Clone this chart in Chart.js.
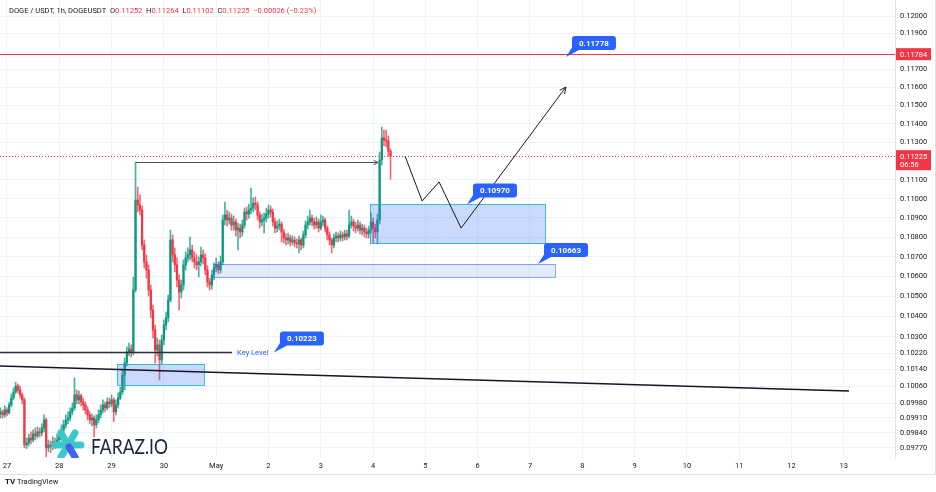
<!DOCTYPE html>
<html>
<head>
<meta charset="utf-8">
<script src="https://cdn.jsdelivr.net/npm/chart.js@4.4.1/dist/chart.umd.min.js"></script>
<style>
  html, body { margin: 0; padding: 0; background: #fff; }
  #wrap { width: 936px; height: 492px; }
</style>
</head>
<body>
<div id="wrap"><canvas id="myChart" width="936" height="492"></canvas></div>
<script>
// DOGE/USDT 1h candles, hour 0 = 27 Apr 00:00
var firstHour = -3;
var firstOpen = 0.09928;

var closes = [
  0.09938, 0.09924, 0.09947, 0.09933, 0.09971, 0.10004, 0.10033, 0.10061, 0.10042, 0.10019,
  0.09995, 0.09783, 0.09792, 0.09815, 0.09806, 0.09834, 0.09825, 0.09844, 0.09839, 0.09862,
  0.09900, 0.09769, 0.09783, 0.09774, 0.09797, 0.09788, 0.09806, 0.09825, 0.09853, 0.09877,
  0.09900, 0.09909, 0.09938, 0.09957, 0.10019, 0.09995, 0.10014, 0.09985, 0.09971, 0.09947,
  0.09924, 0.09900, 0.09909, 0.09877, 0.09900, 0.09924, 0.09947, 0.09971, 0.09957, 0.09985,
  0.09976, 0.09995, 0.09938, 0.09971, 0.10004, 0.10033, 0.10114, 0.10172, 0.10225, 0.10240,
  0.10225, 0.10532, 0.10993, 0.10967, 0.10941, 0.10760, 0.10674, 0.10633, 0.10532, 0.10432,
  0.10333, 0.10235, 0.10260, 0.10187, 0.10284, 0.10358, 0.10393, 0.10482, 0.10786, 0.10710,
  0.10659, 0.10582, 0.10522, 0.10557, 0.10659, 0.10694, 0.10710, 0.10735, 0.10694, 0.10674,
  0.10659, 0.10674, 0.10710, 0.10694, 0.10633, 0.10572, 0.10557, 0.10608, 0.10643, 0.10659,
  0.10633, 0.10674, 0.10889, 0.10915, 0.10889, 0.10899, 0.10863, 0.10879, 0.10837, 0.10847,
  0.10827, 0.10863, 0.10931, 0.10920, 0.10941, 0.10951, 0.10977, 0.10967, 0.10915, 0.10879,
  0.10889, 0.10899, 0.10920, 0.10941, 0.10931, 0.10879, 0.10847, 0.10858, 0.10868, 0.10827,
  0.10796, 0.10786, 0.10796, 0.10776, 0.10786, 0.10771, 0.10766, 0.10786, 0.10760, 0.10812,
  0.10863, 0.10879, 0.10899, 0.10879, 0.10863, 0.10879, 0.10847, 0.10879, 0.10889, 0.10847,
  0.10812, 0.10786, 0.10760, 0.10796, 0.10806, 0.10796, 0.10812, 0.10801, 0.10817, 0.10806,
  0.10863, 0.10879, 0.10858, 0.10847, 0.10863, 0.10837, 0.10847, 0.10827, 0.10817, 0.10837,
  0.10879, 0.10847, 0.10827, 0.10889, 0.11205, 0.11323, 0.11312, 0.11307, 0.11252, 0.11225
];
var highs = [
  0.09957, 0.09947, 0.09966, 0.09957, 0.09985, 0.10023, 0.10052, 0.10080, 0.10071, 0.10061,
  0.10028, 0.10004, 0.09815, 0.09834, 0.09844, 0.09853, 0.09862, 0.09867, 0.09862, 0.09881,
  0.09924, 0.09909, 0.09806, 0.09801, 0.09820, 0.09815, 0.09834, 0.09853, 0.09877, 0.09900,
  0.09924, 0.09938, 0.09957, 0.09981, 0.10100, 0.10042, 0.10037, 0.10023, 0.10004, 0.09985,
  0.09962, 0.09938, 0.09928, 0.09919, 0.09924, 0.09947, 0.09971, 0.09995, 0.09985, 0.10004,
  0.10004, 0.10019, 0.10004, 0.09995, 0.10028, 0.10056, 0.10138, 0.10197, 0.10250, 0.10269,
  0.10260, 0.10597, 0.11194, 0.11062, 0.11020, 0.10962, 0.10786, 0.10710, 0.10659, 0.10557,
  0.10457, 0.10358, 0.10294, 0.10284, 0.10309, 0.10383, 0.10422, 0.10507, 0.10837, 0.10812,
  0.10745, 0.10694, 0.10608, 0.10582, 0.10684, 0.10725, 0.10745, 0.10801, 0.10760, 0.10725,
  0.10710, 0.10699, 0.10750, 0.10735, 0.10715, 0.10654, 0.10592, 0.10633, 0.10669, 0.10694,
  0.10674, 0.10704, 0.10915, 0.10983, 0.10941, 0.10931, 0.10920, 0.10910, 0.10894, 0.10873,
  0.10868, 0.10889, 0.10951, 0.10957, 0.10972, 0.11056, 0.11004, 0.11009, 0.10983, 0.10931,
  0.10920, 0.10925, 0.10951, 0.10967, 0.10962, 0.10946, 0.10899, 0.10884, 0.10894, 0.10879,
  0.10842, 0.10817, 0.10822, 0.10812, 0.10806, 0.10801, 0.10791, 0.10806, 0.10796, 0.10832,
  0.10884, 0.10910, 0.10941, 0.10915, 0.10899, 0.10904, 0.10894, 0.10915, 0.10910, 0.10899,
  0.10858, 0.10827, 0.10796, 0.10817, 0.10827, 0.10822, 0.10832, 0.10827, 0.10837, 0.10837,
  0.10941, 0.10910, 0.10894, 0.10879, 0.10889, 0.10879, 0.10868, 0.10863, 0.10847, 0.10858,
  0.10925, 0.10899, 0.10868, 0.10920, 0.11247, 0.11382, 0.11366, 0.11366, 0.11334, 0.11264
];
var lows = [
  0.09909, 0.09909, 0.09914, 0.09919, 0.09928, 0.09962, 0.09995, 0.10023, 0.10028, 0.10004,
  0.09976, 0.09769, 0.09765, 0.09778, 0.09788, 0.09797, 0.09806, 0.09815, 0.09820, 0.09825,
  0.09844, 0.09727, 0.09751, 0.09746, 0.09760, 0.09765, 0.09769, 0.09792, 0.09806, 0.09839,
  0.09862, 0.09881, 0.09895, 0.09924, 0.09947, 0.09976, 0.09976, 0.09966, 0.09947, 0.09928,
  0.09900, 0.09881, 0.09872, 0.09820, 0.09862, 0.09886, 0.09909, 0.09933, 0.09938, 0.09947,
  0.09957, 0.09962, 0.09891, 0.09924, 0.09957, 0.09995, 0.10019, 0.10042, 0.10158, 0.10206,
  0.10201, 0.10211, 0.10522, 0.10931, 0.10915, 0.10735, 0.10643, 0.10592, 0.10502, 0.10393,
  0.10294, 0.10172, 0.10206, 0.10090, 0.10168, 0.10260, 0.10333, 0.10373, 0.10472, 0.10674,
  0.10623, 0.10547, 0.10432, 0.10492, 0.10532, 0.10633, 0.10674, 0.10684, 0.10674, 0.10643,
  0.10633, 0.10597, 0.10654, 0.10664, 0.10608, 0.10547, 0.10532, 0.10537, 0.10582, 0.10623,
  0.10613, 0.10618, 0.10659, 0.10863, 0.10858, 0.10868, 0.10837, 0.10837, 0.10806, 0.10735,
  0.10796, 0.10806, 0.10847, 0.10889, 0.10899, 0.10920, 0.10931, 0.10941, 0.10889, 0.10847,
  0.10858, 0.10822, 0.10879, 0.10899, 0.10904, 0.10858, 0.10822, 0.10827, 0.10837, 0.10776,
  0.10771, 0.10760, 0.10766, 0.10755, 0.10760, 0.10750, 0.10745, 0.10720, 0.10735, 0.10745,
  0.10796, 0.10842, 0.10863, 0.10858, 0.10842, 0.10847, 0.10827, 0.10837, 0.10858, 0.10827,
  0.10786, 0.10760, 0.10720, 0.10745, 0.10776, 0.10776, 0.10781, 0.10781, 0.10786, 0.10786,
  0.10796, 0.10847, 0.10832, 0.10822, 0.10832, 0.10817, 0.10812, 0.10801, 0.10796, 0.10796,
  0.10822, 0.10771, 0.10796, 0.10766, 0.10868, 0.11178, 0.11280, 0.11275, 0.11225, 0.11102
];

var dayLabels = ["27", "28", "29", "30", "May", "2", "3", "4", "5", "6", "7", "8", "9", "10", "11", "12", "13"];
var priceTicks = [0.12, 0.119, 0.117, 0.116, 0.115, 0.114, 0.113, 0.111, 0.110, 0.109, 0.108,
  0.107, 0.106, 0.105, 0.104, 0.103, 0.1022, 0.1014, 0.1006, 0.0998, 0.0991, 0.0984, 0.0977];

// drawings on the chart, in hours / price
var targetLine = 0.11784;
var lastPrice = 0.11225;
var countdown = "06:56";
var zigzag = [[182.7, 0.11225], [190.5, 0.10988], [198.3, 0.11088], [208.4, 0.10847], [256.5, 0.11601]];
var zones = [
  { from: 166.6, to: 246.9, top: 0.10970, bottom: 0.10766 },
  { from: 94.5, to: 251.5, top: 0.10663, bottom: 0.10598 },
  { from: 50.5, to: 90.4, top: 0.10167, bottom: 0.10066 }
];
var callouts = [
  { text: "0.11778", hour: 256.5, price: 0.11768 },
  { text: "0.10970", hour: 211.1, price: 0.10970 },
  { text: "0.10663", hour: 243.7, price: 0.10663 },
  { text: "0.10223", hour: 122.5, price: 0.10223 }
];
var keyLevel = { price: 0.10223, from: -3.2, to: 103.3 };
var trendLine = [[-3.2, 0.10158], [386.4, 0.10037]];
var breakArrow = { price: 0.11194, from: 59.2, to: 170.3 };
var legendParts = [
  ["DOGE / USDT, 1h, DOGEUSDT", "#131722"], ["  O", "#131722"], ["0.11252", "#f23645"],
  ["  H", "#131722"], ["0.11264", "#f23645"], ["  L", "#131722"], ["0.11102", "#f23645"],
  ["  C", "#131722"], ["0.11225", "#f23645"], ["  \u22120.00026 (\u22120.23%)", "#f23645"]
];

var UP = "#089981";
var DOWN = "#f23645";
var FONT = "Roboto, 'Liberation Sans', sans-serif";

var opens = [firstOpen];
for (var i = 1; i < closes.length; i++) {
  opens.push(closes[i - 1]);
}

var bodies = [];
var wicks = [];
var colors = [];
for (var i = 0; i < closes.length; i++) {
  var o = opens[i], c = closes[i];
  bodies.push({ x: firstHour + i, y: [o, c] });
  wicks.push({ x: firstHour + i, y: [Math.min(lows[i], o, c), Math.max(highs[i], o, c)] });
  colors.push(c >= o ? UP : DOWN);
}

function arrowHead(ctx, x0, y0, x1, y1, len) {
  var a = Math.atan2(y1 - y0, x1 - x0);
  ctx.beginPath();
  ctx.moveTo(x1 - len * Math.cos(a - 0.45), y1 - len * Math.sin(a - 0.45));
  ctx.lineTo(x1, y1);
  ctx.lineTo(x1 - len * Math.cos(a + 0.45), y1 - len * Math.sin(a + 0.45));
  ctx.stroke();
}

function drawCallout(ctx, ax, ay, text) {
  var w = 44, h = 14;
  var bx = ax + 6, by = ay - 7 - h;
  ctx.fillStyle = "#2962ff";
  ctx.beginPath();
  ctx.roundRect(bx, by, w, h, 3);
  ctx.fill();
  ctx.beginPath();
  ctx.moveTo(bx + 1, by + h - 4);
  ctx.lineTo(bx + 7, by + h);
  ctx.lineTo(ax, ay);
  ctx.closePath();
  ctx.fill();
  ctx.fillStyle = "#ffffff";
  ctx.font = "bold 8px " + FONT;
  ctx.textAlign = "center";
  ctx.textBaseline = "middle";
  ctx.fillText(text, bx + w / 2, by + h / 2 + 0.5);
}

var drawings = {
  id: "drawings",
  afterDatasetsDraw: function (chart) {
    var ctx = chart.ctx, area = chart.chartArea;
    var X = function (h) { return chart.scales.x.getPixelForValue(h); };
    var Y = function (p) { return chart.scales.y.getPixelForValue(p); };
    ctx.save();
    ctx.beginPath();
    ctx.rect(area.left, area.top, area.right - area.left, area.bottom - area.top);
    ctx.clip();

    // zones
    zones.forEach(function (z, k) {
      var x0 = X(z.from), x1 = X(z.to), y0 = Y(z.top), y1 = Y(z.bottom);
      ctx.fillStyle = k == 1 ? "rgba(41,98,255,0.13)" : "rgba(41,98,255,0.24)";
      ctx.fillRect(x0, y0, x1 - x0, y1 - y0);
      ctx.strokeStyle = k == 1 ? "rgba(41,98,255,0.55)" : "rgba(0,172,210,0.75)";
      ctx.lineWidth = 1;
      ctx.strokeRect(Math.round(x0) + 0.5, Math.round(y0) + 0.5, Math.round(x1 - x0), Math.round(y1 - y0));
    });

    // target line
    ctx.strokeStyle = "#f23645";
    ctx.lineWidth = 1;
    var ty = Math.round(Y(targetLine)) + 0.5;
    ctx.beginPath(); ctx.moveTo(area.left, ty); ctx.lineTo(area.right, ty); ctx.stroke();

    // last price dotted line
    var ly = Math.round(Y(lastPrice)) + 0.5;
    ctx.setLineDash([1, 2]);
    ctx.beginPath(); ctx.moveTo(area.left, ly); ctx.lineTo(area.right, ly); ctx.stroke();
    ctx.setLineDash([]);

    // trend line
    ctx.strokeStyle = "#131722";
    ctx.lineWidth = 1.5;
    ctx.beginPath();
    ctx.moveTo(X(trendLine[0][0]), Y(trendLine[0][1]));
    ctx.lineTo(X(trendLine[1][0]), Y(trendLine[1][1]));
    ctx.stroke();

    // key level
    ctx.strokeStyle = "#2a2e39";
    var ky = Y(keyLevel.price);
    ctx.beginPath(); ctx.moveTo(X(keyLevel.from), ky); ctx.lineTo(X(keyLevel.to), ky); ctx.stroke();
    ctx.fillStyle = "#2962ff";
    ctx.font = "7.5px " + FONT;
    ctx.textAlign = "left";
    ctx.textBaseline = "middle";
    ctx.fillText("Key Level", X(keyLevel.to) + 5, ky + 0.5);

    // break arrow
    ctx.strokeStyle = "#50535e";
    ctx.lineWidth = 1;
    var by = Math.round(Y(breakArrow.price)) + 0.5;
    ctx.beginPath(); ctx.moveTo(X(breakArrow.from), by); ctx.lineTo(X(breakArrow.to), by); ctx.stroke();
    arrowHead(ctx, X(breakArrow.from), by, X(breakArrow.to), by, 5);

    // projected path
    ctx.strokeStyle = "#131722";
    ctx.lineWidth = 1;
    ctx.beginPath();
    zigzag.forEach(function (p, k) {
      if (k == 0) ctx.moveTo(X(p[0]), Y(p[1]));
      else ctx.lineTo(X(p[0]), Y(p[1]));
    });
    ctx.stroke();
    var n = zigzag.length;
    arrowHead(ctx, X(zigzag[n - 2][0]), Y(zigzag[n - 2][1]), X(zigzag[n - 1][0]), Y(zigzag[n - 1][1]), 7);

    callouts.forEach(function (c) {
      drawCallout(ctx, X(c.hour), Y(c.price), c.text);
    });

    // FARAZ.IO mark
    var cx = 68, cy = 445;
    ctx.lineCap = "round";
    ctx.lineWidth = 7;
    ctx.strokeStyle = "#3cc8c8";
    ctx.beginPath(); ctx.moveTo(cx - 13, cy); ctx.lineTo(cx + 13, cy); ctx.stroke();
    ctx.beginPath(); ctx.moveTo(cx - 7, cy - 12); ctx.lineTo(cx, cy); ctx.stroke();
    ctx.beginPath(); ctx.moveTo(cx + 7, cy - 12); ctx.lineTo(cx, cy); ctx.stroke();
    ctx.beginPath(); ctx.moveTo(cx - 7, cy + 12); ctx.lineTo(cx, cy); ctx.stroke();
    ctx.strokeStyle = "#4361ee";
    ctx.beginPath(); ctx.moveTo(cx + 7, cy + 12); ctx.lineTo(cx + 1, cy + 2); ctx.stroke();
    ctx.lineCap = "butt";
    ctx.fillStyle = "#1b2540";
    ctx.font = "21px Lato, " + FONT;
    ctx.textAlign = "left";
    ctx.textBaseline = "alphabetic";
    ctx.fillText("FARAZ.IO", 91, 454, 77);
    ctx.restore();
  },
  afterDraw: function (chart) {
    var ctx = chart.ctx, area = chart.chartArea;
    var Y = function (p) { return chart.scales.y.getPixelForValue(p); };
    ctx.save();

    // price axis labels
    ctx.font = "7.5px " + FONT;
    ctx.textBaseline = "middle";
    ctx.textAlign = "left";
    var ty = Y(targetLine);
    ctx.fillStyle = "#f23645";
    ctx.fillRect(area.right + 1, ty - 6, 35, 12);
    ctx.fillStyle = "#fff";
    ctx.fillText(targetLine.toFixed(5), area.right + 5, ty + 0.5);
    var ly = Y(lastPrice);
    ctx.fillStyle = "#f23645";
    ctx.fillRect(area.right + 1, ly - 6, 35, 20);
    ctx.fillStyle = "#fff";
    ctx.fillText(lastPrice.toFixed(5), area.right + 5, ly + 0.5);
    ctx.fillText(countdown, area.right + 5, ly + 9);

    // legend line
    ctx.font = "7.5px " + FONT;
    var x = 9;
    legendParts.forEach(function (p) {
      ctx.fillStyle = p[1];
      ctx.fillText(p[0], x, 11);
      x += ctx.measureText(p[0]).width;
    });

    // frame and footer
    ctx.strokeStyle = "#e0e3eb";
    ctx.lineWidth = 1;
    ctx.beginPath();
    ctx.moveTo(0, 474.5); ctx.lineTo(935.5, 474.5); ctx.lineTo(935.5, 0);
    ctx.stroke();
    ctx.fillStyle = "#131722";
    ctx.font = "bold 8px " + FONT;
    ctx.fillText("TV", 5, 482);
    ctx.font = "7.5px " + FONT;
    ctx.fillText("TradingView", 17, 482);
    ctx.restore();
  }
};

var ctx = document.getElementById("myChart");
var myChart = new Chart(ctx, {
  type: "bar",
  data: {
    datasets: [
      {
        label: "bodies",
        data: bodies,
        backgroundColor: colors,
        barThickness: 1.6,
        grouped: false,
        borderSkipped: false
      },
      {
        label: "wicks",
        data: wicks,
        backgroundColor: colors.map(function (c) { return c == UP ? "rgba(8,153,129,0.75)" : "rgba(242,54,69,0.75)"; }),
        barThickness: 1,
        grouped: false,
        borderSkipped: false
      }
    ]
  },
  options: {
    responsive: false,
    animation: false,
    layout: { padding: 0 },
    plugins: { legend: { display: false }, tooltip: { enabled: false } },
    scales: {
      x: {
        type: "linear",
        min: -3.2,
        max: 407.5,
        bounds: "data",
        offset: false,
        grid: { color: "#f0f3fa", offset: false, drawTicks: false },
        border: { display: false },
        afterBuildTicks: function (s) {
          s.ticks = dayLabels.map(function (d, k) { return { value: k * 24 }; });
        },
        afterFit: function (s) {
          s.height = 34;
          s.paddingLeft = 0;
          s.paddingRight = 0;
        },
        ticks: {
          autoSkip: false,
          maxRotation: 0,
          padding: 4,
          color: "#131722",
          font: { family: FONT, size: 7.5 },
          callback: function (v, k) { return dayLabels[k]; }
        }
      },
      y: {
        type: "logarithmic",
        position: "right",
        min: 0.09722,
        max: 0.12092,
        bounds: "data",
        grid: { color: "#f0f3fa", drawTicks: false },
        border: { color: "#e0e3eb" },
        afterBuildTicks: function (s) {
          s.ticks = priceTicks.map(function (v) { return { value: v }; });
        },
        afterFit: function (s) {
          s.width = 41;
          s.paddingTop = 0;
          s.paddingBottom = 0;
        },
        ticks: {
          padding: 5,
          color: "#131722",
          font: { family: FONT, size: 7.5 },
          callback: function (v) { return Number(v).toFixed(5); }
        }
      }
    }
  },
  plugins: [drawings]
});
</script>
</body>
</html>
